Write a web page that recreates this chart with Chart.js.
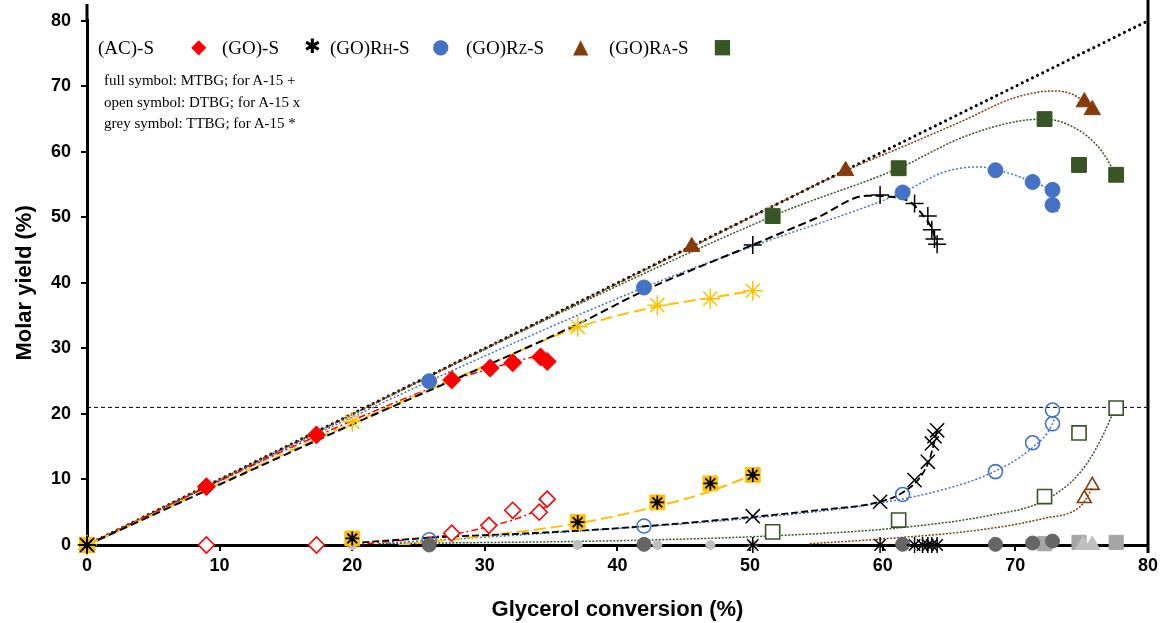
<!DOCTYPE html>
<html>
<head>
<meta charset="utf-8">
<script src="https://cdn.jsdelivr.net/npm/chart.js@4.4.1/dist/chart.umd.min.js"></script>
<style>
  html, body { margin: 0; padding: 0; background: #fff; }
  #wrap { position: relative; width: 1162px; height: 623px; }
  #legend { position: absolute; left: 0; top: 0; font-family: 'Liberation Serif', 'Times New Roman', serif; color: #000; pointer-events: none; }
  #legend span { position: absolute; white-space: nowrap; }
  .lab { font-size: 19px; top: 37px; }
  .sym { font-family: 'DejaVu Sans', sans-serif; top: 34px; font-size: 20px; }
  .sub { font-size: 0.72em; }
  .note { font-size: 15px; left: 104px; }
</style>
</head>
<body>
<div id="wrap">
  <canvas id="cvx" width="1162" height="623"></canvas>
  <div id="legend">
    <span class="lab" style="left:98px">(AC)-S</span>
    <span class="sym" style="left:191px;color:#ff0000">&#9670;</span>
    <span class="lab" style="left:222px">(GO)-S</span>
    <span class="sym" style="left:304px;color:#000">&#10033;</span>
    <span class="lab" style="left:330px">(GO)R<span class="sub" style="position:static">H</span>-S</span>
    <span class="sym" style="left:432px;color:#4472c4">&#9679;</span>
    <span class="lab" style="left:466px">(GO)R<span class="sub" style="position:static">Z</span>-S</span>
    <span class="sym" style="left:573px;color:#843c0c">&#9650;</span>
    <span class="lab" style="left:609px">(GO)R<span class="sub" style="position:static">A</span>-S</span>
    <span class="sym" style="left:713px;color:#375623">&#9632;</span>
    <span class="note" style="top:72px">full symbol: MTBG; for A-15 +</span>
    <span class="note" style="top:94px">open symbol: DTBG; for A-15 x</span>
    <span class="note" style="top:115px">grey symbol: TTBG; for A-15 *</span>
  </div>
</div>
<script>
// reference lines
const diagonal = [[0, 0], [80, 80]];
const limit21 = [[0, 21], [80, 21]];

// (AC)-S  (red diamonds)
const acMTBG = [[0, 0], [9, 8.9], [17.3, 16.8], [27.5, 25.2], [30.4, 27.0], [32.1, 27.8], [34.2, 28.7], [34.7, 28.0]];
const acDTBG = [[0, 0], [9, 0], [17.3, 0], [27.5, 1.8], [30.3, 3.0], [32.1, 5.3], [34.1, 5.0], [34.7, 7.0]];
const acFitM = [[0, 0], [9, 8.8], [17.3, 16.6], [27.5, 25.1], [30.4, 26.9], [32.1, 27.9], [33.5, 28.6], [34.3, 28.7], [34.8, 28.0]];
const acFitD = [[20, 0], [25, 1.0], [27.5, 1.6], [30.3, 2.8], [32.5, 4.1], [34.7, 5.9]];

// (GO)-S  (yellow)
const goMTBG = [[0, 0], [20, 18.8], [37, 33.3], [43, 36.6], [47, 37.6], [50.2, 38.8]];
const goDTBG = [[0, 0], [20, 1.0], [37, 3.5], [43, 6.5], [47, 9.4], [50.2, 10.7]];
const goTTBG = [[0, 0], [20, 0], [37, 0], [43, 0], [47, 0], [50.2, 0]];
const goFitM = [[0, 0], [20, 18.6], [30, 27.3], [37, 33.2], [43, 36.4], [47, 37.7], [50.2, 38.8]];
const goFitD = [[23.5, 0], [30, 1.4], [37, 3.3], [43, 5.9], [47, 8.2], [50.2, 10.7]];

// (GO)RH-S  (blue circles)
const rhMTBG = [[0, 0], [25.8, 25.0], [42, 39.3], [61.5, 53.8], [68.5, 57.2], [71.3, 55.4], [72.8, 54.2], [72.8, 51.9]];
const rhDTBG = [[0, 0], [25.8, 0.8], [42, 2.9], [61.5, 7.7], [68.5, 11.2], [71.3, 15.6], [72.8, 18.5], [72.8, 20.6]];
const rhTTBG = [[0, 0], [25.8, 0], [42, 0.1], [61.5, 0.1], [68.5, 0.1], [71.3, 0.3], [72.8, 0.6]];
const rhFitM = [[0, 0], [25.8, 25.0], [42, 39.3], [50.2, 45.6], [61.5, 53.8], [64.6, 56.9], [67.2, 57.7], [68.5, 57.3], [71.3, 55.3], [72.8, 53.3], [73.2, 50.8]];
const rhFitD = [[22.7, 0.3], [30, 1.2], [42, 2.8], [50.2, 4.1], [59.8, 6.4], [65, 8.7], [68.3, 11.1], [71.3, 14.9], [72.8, 18.5], [73.0, 19.8]];

// (GO)RZ-S  (brown triangles)
const rzMTBG = [[0, 0], [45.6, 45.5], [57.2, 57.1], [75.2, 67.6], [75.8, 66.4]];
const rzDTBG = [[0, 0], [75.2, 7.1], [75.8, 9.1]];
const rzTTBG = [[0, 0], [75.1, 0], [75.8, 0]];
const rzFitM = [[0, 0], [45.6, 45.5], [57.2, 57.1], [62, 61.2], [66, 64.7], [70, 68.3], [73, 69.3], [74.4, 68.7], [75.2, 67.6], [75.8, 66.4]];
const rzFitD = [[54.5, 0.2], [59.8, 0.9], [67.3, 2.3], [72, 4.0], [74.9, 5.9], [75.5, 7.6], [75.8, 8.9]];

// (GO)RA-S  (green squares)
const raMTBG = [[0, 0], [51.7, 50.2], [61.2, 57.5], [72.2, 65.0], [74.8, 58.0], [77.6, 56.5]];
const raDTBG = [[0, 0], [51.7, 2.0], [61.2, 3.8], [72.2, 7.4], [74.8, 17.1], [77.6, 20.9]];
const raTTBG = [[0, 0], [72.2, 0.2], [74.8, 0.4], [77.6, 0.4]];
const raFitM = [[0, 0], [51.7, 50.2], [61.2, 57.5], [66, 62.2], [70, 64.6], [72.2, 65.0], [74.7, 63.4], [76.4, 60.4], [77.6, 56.5]];
const raFitD = [[22, 0.2], [41, 0.7], [51.7, 1.4], [61.1, 2.6], [68, 4.5], [72.1, 6.7], [74.9, 11.1], [76.4, 15.9], [77.5, 20.8]];

// A-15  (black + / x / *)
const a15MTBG = [[0, 0], [50.2, 45.8], [59.8, 53.4], [62.4, 52.1], [63.4, 50.2], [63.7, 48.1], [63.9, 46.7], [64.1, 45.9]];
const a15DTBG = [[0, 0], [50.2, 4.4], [59.8, 6.6], [62.4, 9.9], [63.4, 12.7], [63.7, 15.5], [63.9, 16.6], [64.1, 17.5]];
const a15TTBG = [[0, 0], [50.2, 0], [59.8, 0], [62.4, 0], [63.0, 0], [63.4, 0], [63.7, 0], [64.1, 0]];
const a15FitM = [[0, 0], [20, 18.4], [37, 33.7], [42, 38.8], [50.2, 45.8], [55, 49.9], [58.8, 53.3], [60.8, 53.1], [62.1, 52.3], [63, 50.4], [63.7, 48.3], [64.1, 45.8]];
const a15FitD = [[20, 0.3], [26.6, 1.2], [33.4, 1.8], [41, 2.7], [50.2, 4.3], [55, 5.3], [59.8, 6.6], [61.5, 8.0], [62.8, 10.3], [63.5, 12.9], [63.8, 15.0], [64.1, 17.5]];

const xTicks = [0, 10, 20, 30, 40, 50, 60, 70, 80];
const yTicks = [0, 10, 20, 30, 40, 50, 60, 70, 80];

const RED = '#ff0000', YEL = '#ffc000', BLUE = '#4472c4', BROWN = '#843c0c', GREEN = '#375623';
const DGREY = '#666666', LGREY = '#bfbfbf';

function pts(a) { return a.map(p => ({x: p[0], y: p[1]})); }

function marks(a, style, r, fill, stroke, bw) {
  return {
    type: 'scatter', data: pts(a), showLine: false, clip: 12,
    pointStyle: style, pointRadius: r, pointHoverRadius: r,
    backgroundColor: fill, borderColor: stroke, pointBorderWidth: bw
  };
}

function curve(a, color, dash, w) {
  return {
    type: 'line', data: pts(a), pointRadius: 0, fill: false,
    borderColor: color, borderWidth: w, borderDash: dash,
    cubicInterpolationMode: 'monotone'
  };
}

const datasets = [
  // markers (drawn on top)
  marks(a15TTBG, 'star', 8, '#000', '#000', 1.5),
  marks(a15DTBG, 'crossRot', 10, '#000', '#000', 1.5),
  marks(a15MTBG, 'cross', 9, '#000', '#000', 1.5),
  marks(goDTBG, 'star', 7, '#000', '#000', 1.8),
  marks(goDTBG, 'rect', 10.5, YEL, YEL, 1),
  marks(goTTBG, 'star', 5, LGREY, LGREY, 3),
  marks(goMTBG, 'star', 10, YEL, YEL, 1.5),
  marks(acDTBG, 'rectRot', 8, '#fff', RED, 1.6),
  marks(acMTBG, 'rectRot', 9, RED, RED, 1),
  marks(rhTTBG, 'circle', 7, DGREY, DGREY, 1),
  marks(rhDTBG, 'circle', 7, 'rgba(255,255,255,0)', BLUE, 1.6),
  marks(rhMTBG, 'circle', 7.5, BLUE, BLUE, 1),
  marks(rzTTBG, 'triangle', 9, LGREY, LGREY, 1),
  marks(rzDTBG, 'triangle', 8, 'rgba(255,255,255,0)', BROWN, 1.6),
  marks(rzMTBG, 'triangle', 9.5, BROWN, BROWN, 1),
  marks(raTTBG, 'rect', 10, '#a6a6a6', '#a6a6a6', 1),
  marks(raDTBG, 'rect', 10, '#fff', GREEN, 1.6),
  marks(raMTBG, 'rect', 10.5, GREEN, GREEN, 1),
  // trend lines
  curve(a15FitM, '#000', [8, 4], 2),
  curve(a15FitD, '#000', [7, 3], 1.8),
  curve(goFitM, YEL, [12, 5], 2),
  curve(goFitD, YEL, [12, 5], 2),
  curve(acFitM, RED, [7, 3, 2, 3], 1.5),
  curve(acFitD, RED, [7, 3, 2, 3], 1.5),
  curve(rhFitM, BLUE, [2, 2], 1.5),
  curve(rhFitD, BLUE, [2, 2], 1.5),
  curve(rzFitM, BROWN, [2, 1.5], 1.5),
  curve(rzFitD, BROWN, [2, 1.5], 1.5),
  curve(raFitM, GREEN, [2, 1.5], 1.5),
  curve(raFitD, GREEN, [2, 1.5], 1.5),
  Object.assign(curve(diagonal, '#000', [0.1, 5.6], 3), {borderCapStyle: 'round', clip: 4}),
  curve(limit21, '#000', [4, 3], 1)
];

const frame = {
  id: 'frame',
  afterDraw(chart) {
    const {ctx, chartArea: a} = chart;
    ctx.save();
    ctx.strokeStyle = '#000';
    ctx.lineWidth = 3;
    ctx.beginPath();
    ctx.moveTo(a.right, 0);
    ctx.lineTo(a.right, a.bottom + 8);
    ctx.moveTo(a.left, 4);
    ctx.lineTo(a.left, a.top);
    ctx.stroke();
    ctx.restore();
  }
};

const tickFont = {family: "'Liberation Sans Narrow', 'Liberation Sans', Arial, sans-serif", size: 18, weight: 'bold'};
const titleFont = {family: "'Liberation Sans', Arial, sans-serif", size: 22, weight: 'bold'};

new Chart(document.getElementById('cvx'), {
  type: 'scatter',
  data: {datasets: datasets},
  options: {
    responsive: false,
    animation: false,
    layout: {padding: {top: 18, right: 14, left: 0, bottom: 0}},
    plugins: {legend: {display: false}, tooltip: {enabled: false}},
    scales: {
      x: {
        type: 'linear', min: 0, max: 80,
        afterBuildTicks: s => { s.ticks = xTicks.map(v => ({value: v})); },
        afterFit: s => { s.height = 78; },
        grid: {drawOnChartArea: false, drawTicks: true, tickLength: 6, color: '#000', lineWidth: 2},
        border: {color: '#000', width: 3},
        ticks: {color: '#000', font: tickFont, padding: 4, maxRotation: 0},
        title: {display: true, text: 'Glycerol conversion (%)', color: '#000', font: titleFont, padding: {top: 12, bottom: 0}}
      },
      y: {
        type: 'linear', min: 0, max: 80,
        afterBuildTicks: s => { s.ticks = yTicks.map(v => ({value: v})); },
        afterFit: s => { s.width = 87; },
        grid: {drawOnChartArea: false, drawTicks: true, tickLength: 6, color: '#000', lineWidth: 2},
        border: {color: '#000', width: 3},
        ticks: {color: '#000', font: tickFont, padding: 10},
        title: {display: true, text: 'Molar yield (%)', color: '#000', font: titleFont, padding: {top: 12, bottom: 4}}
      }
    }
  },
  plugins: [frame]
});
</script>
</body>
</html>
